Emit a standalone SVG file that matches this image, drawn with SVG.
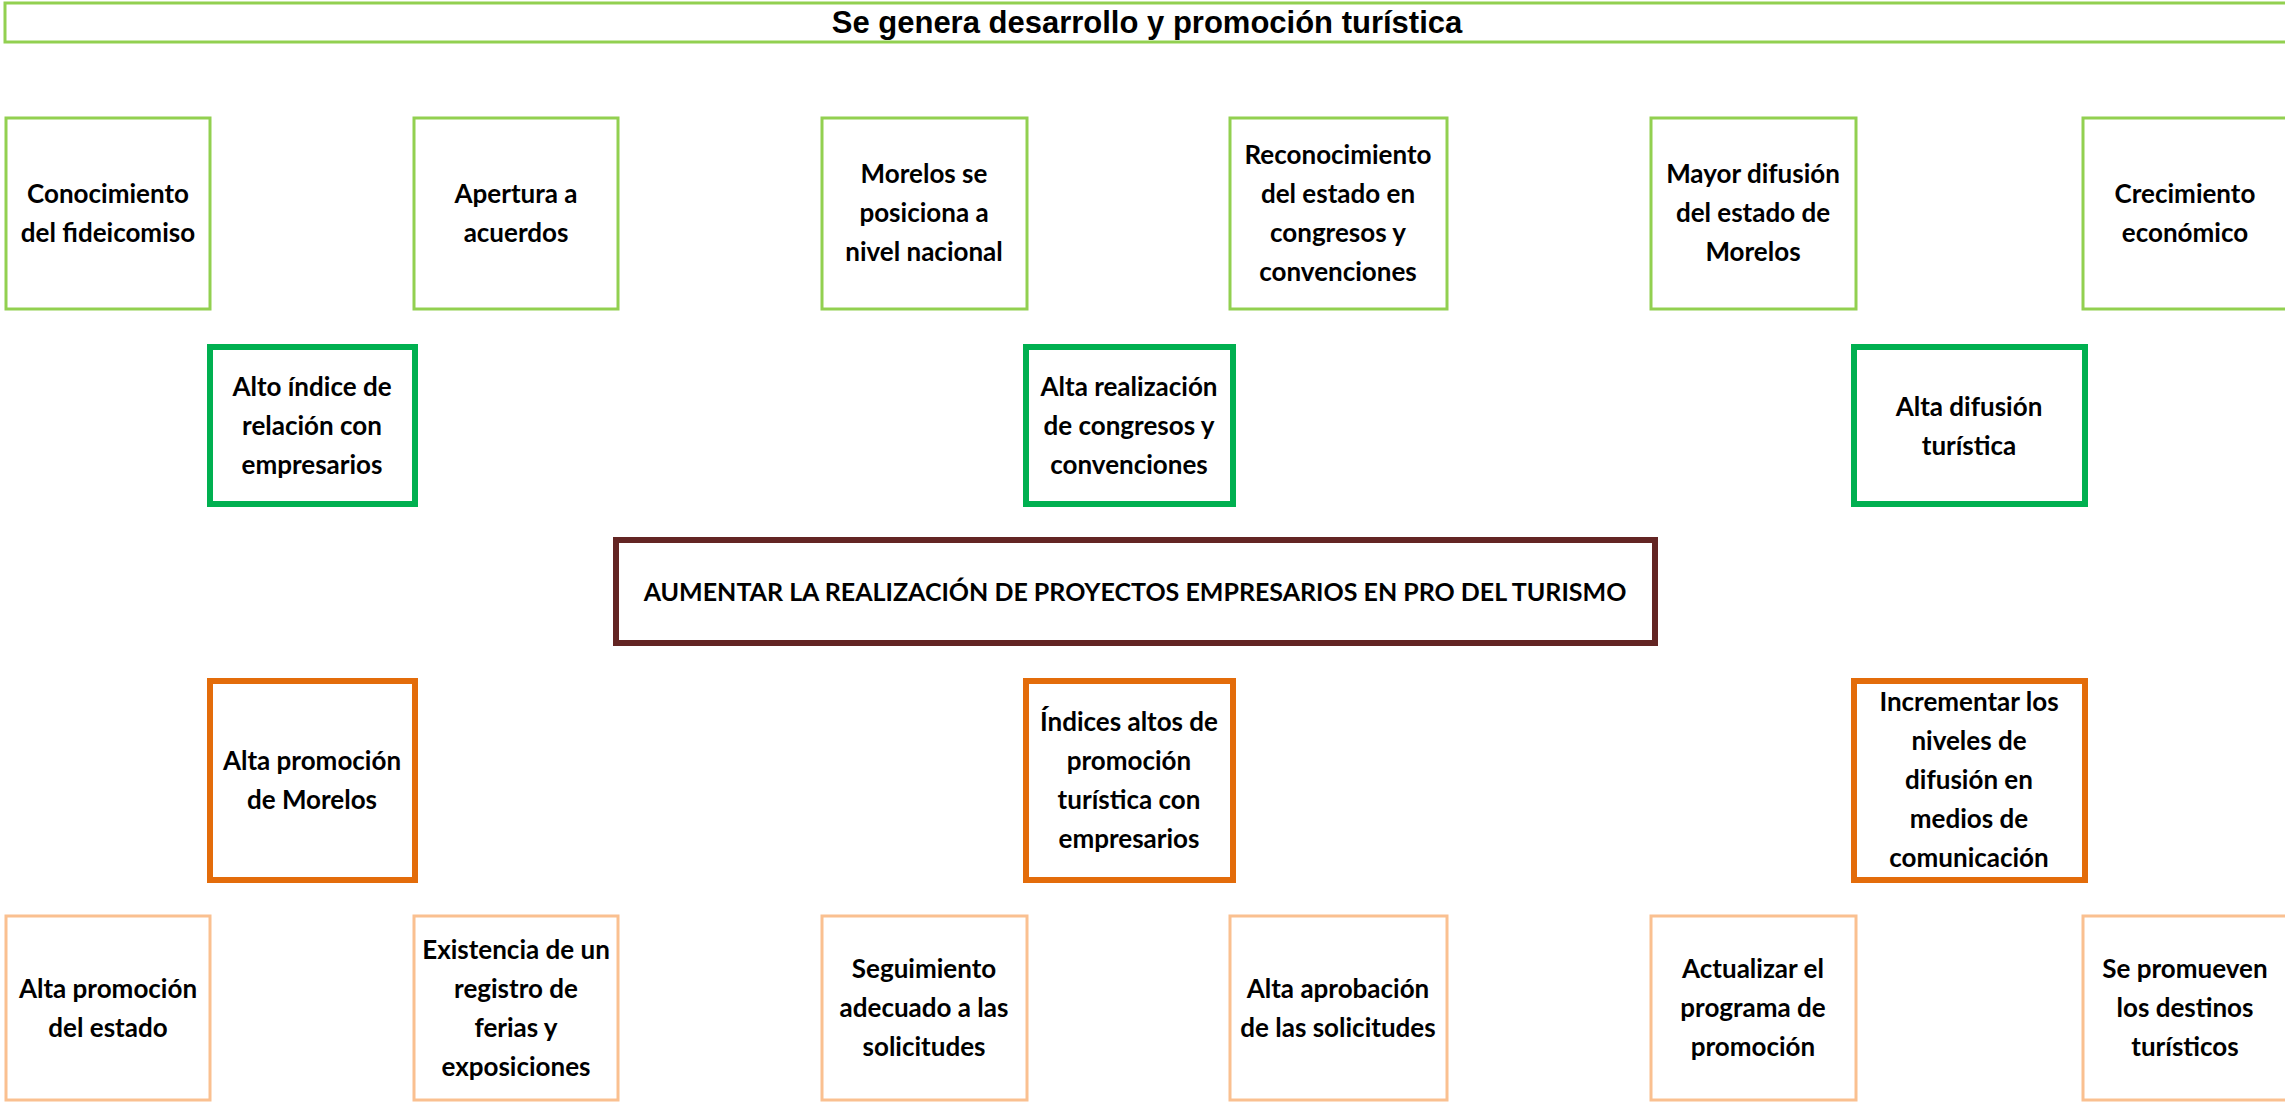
<svg xmlns="http://www.w3.org/2000/svg" width="2285" height="1102" viewBox="0 0 2285 1102">
<style>
  .bg{fill:#ffffff}
  .lg{fill:#ffffff;stroke:#92D050;stroke-width:3}
  .gr{fill:#ffffff;stroke:#00B050;stroke-width:6}
  .br{fill:#ffffff;stroke:#632523;stroke-width:6}
  .or{fill:#ffffff;stroke:#E36C0A;stroke-width:6}
  .lo{fill:#ffffff;stroke:#FAC090;stroke-width:3}
  .t{font-family:"Lato","Liberation Sans",sans-serif;font-weight:bold;font-size:26px;fill:#000000;text-anchor:middle}
  .obj{font-size:25px}
  .title{font-family:"Liberation Sans",Arial,sans-serif;font-weight:bold;font-size:31px;fill:#000000;text-anchor:middle}
</style>
<rect class="bg" x="0" y="0" width="2285" height="1102"/>

<g id="banner">
  <rect class="lg" x="5" y="3" width="2300" height="39"/>
  <text class="title" x="1147" y="33">Se genera desarrollo y promoción turística</text>
</g>

<g id="e1">
  <rect class="lg" x="6" y="118" width="204" height="191"/>
  <text class="t"><tspan x="108" y="202.5">Conocimiento</tspan><tspan x="108" y="241.5">del fideicomiso</tspan></text>
</g>
<g id="e2">
  <rect class="lg" x="414" y="118" width="204" height="191"/>
  <text class="t"><tspan x="516" y="202.5">Apertura a</tspan><tspan x="516" y="241.5">acuerdos</tspan></text>
</g>
<g id="e3">
  <rect class="lg" x="822" y="118" width="205" height="191"/>
  <text class="t"><tspan x="924" y="183">Morelos se</tspan><tspan x="924" y="222">posiciona a</tspan><tspan x="924" y="261">nivel nacional</tspan></text>
</g>
<g id="e4">
  <rect class="lg" x="1230" y="118" width="217" height="191"/>
  <text class="t"><tspan x="1338" y="163.5">Reconocimiento</tspan><tspan x="1338" y="202.5">del estado en</tspan><tspan x="1338" y="241.5">congresos y</tspan><tspan x="1338" y="280.5">convenciones</tspan></text>
</g>
<g id="e5">
  <rect class="lg" x="1651" y="118" width="205" height="191"/>
  <text class="t"><tspan x="1753" y="183">Mayor difusión</tspan><tspan x="1753" y="222">del estado de</tspan><tspan x="1753" y="261">Morelos</tspan></text>
</g>
<g id="e6">
  <rect class="lg" x="2083" y="118" width="205" height="191"/>
  <text class="t"><tspan x="2185" y="202.5">Crecimiento</tspan><tspan x="2185" y="241.5">económico</tspan></text>
</g>

<g id="f1">
  <rect class="gr" x="210" y="347" width="205" height="157"/>
  <text class="t"><tspan x="312" y="396">Alto índice de</tspan><tspan x="312" y="435">relación con</tspan><tspan x="312" y="474">empresarios</tspan></text>
</g>
<g id="f2">
  <rect class="gr" x="1026" y="347" width="207" height="157"/>
  <text class="t"><tspan x="1129" y="396">Alta realización</tspan><tspan x="1129" y="435">de congresos y</tspan><tspan x="1129" y="474">convenciones</tspan></text>
</g>
<g id="f3">
  <rect class="gr" x="1854" y="347" width="231" height="157"/>
  <text class="t"><tspan x="1969" y="415.5">Alta difusión</tspan><tspan x="1969" y="454.5">turística</tspan></text>
</g>

<g id="objetivo">
  <rect class="br" x="616" y="540" width="1039" height="103"/>
  <text class="t obj" x="1135" y="601">AUMENTAR LA REALIZACIÓN DE PROYECTOS EMPRESARIOS EN PRO DEL TURISMO</text>
</g>

<g id="m1">
  <rect class="or" x="210" y="681" width="205" height="199"/>
  <text class="t"><tspan x="312" y="769.5">Alta promoción</tspan><tspan x="312" y="808.5">de Morelos</tspan></text>
</g>
<g id="m2">
  <rect class="or" x="1026" y="681" width="207" height="199"/>
  <text class="t"><tspan x="1129" y="730.5">Índices altos de</tspan><tspan x="1129" y="769.5">promoción</tspan><tspan x="1129" y="808.5">turística con</tspan><tspan x="1129" y="847.5">empresarios</tspan></text>
</g>
<g id="m3">
  <rect class="or" x="1854" y="681" width="231" height="199"/>
  <text class="t"><tspan x="1969" y="711">Incrementar los</tspan><tspan x="1969" y="750">niveles de</tspan><tspan x="1969" y="789">difusión en</tspan><tspan x="1969" y="828">medios de</tspan><tspan x="1969" y="867">comunicación</tspan></text>
</g>

<g id="a1">
  <rect class="lo" x="6" y="916" width="204" height="184"/>
  <text class="t"><tspan x="108" y="997.5">Alta promoción</tspan><tspan x="108" y="1036.5">del estado</tspan></text>
</g>
<g id="a2">
  <rect class="lo" x="414" y="916" width="204" height="184"/>
  <text class="t"><tspan x="516" y="958.5">Existencia de un</tspan><tspan x="516" y="997.5">registro de</tspan><tspan x="516" y="1036.5">ferias y</tspan><tspan x="516" y="1075.5">exposiciones</tspan></text>
</g>
<g id="a3">
  <rect class="lo" x="822" y="916" width="205" height="184"/>
  <text class="t"><tspan x="924" y="978">Seguimiento</tspan><tspan x="924" y="1017">adecuado a las</tspan><tspan x="924" y="1056">solicitudes</tspan></text>
</g>
<g id="a4">
  <rect class="lo" x="1230" y="916" width="217" height="184"/>
  <text class="t"><tspan x="1338" y="997.5">Alta aprobación</tspan><tspan x="1338" y="1036.5">de las solicitudes</tspan></text>
</g>
<g id="a5">
  <rect class="lo" x="1651" y="916" width="205" height="184"/>
  <text class="t"><tspan x="1753" y="978">Actualizar el</tspan><tspan x="1753" y="1017">programa de</tspan><tspan x="1753" y="1056">promoción</tspan></text>
</g>
<g id="a6">
  <rect class="lo" x="2083" y="916" width="205" height="184"/>
  <text class="t"><tspan x="2185" y="978">Se promueven</tspan><tspan x="2185" y="1017">los destinos</tspan><tspan x="2185" y="1056">turísticos</tspan></text>
</g>

<g id="connectors"></g>
</svg>
